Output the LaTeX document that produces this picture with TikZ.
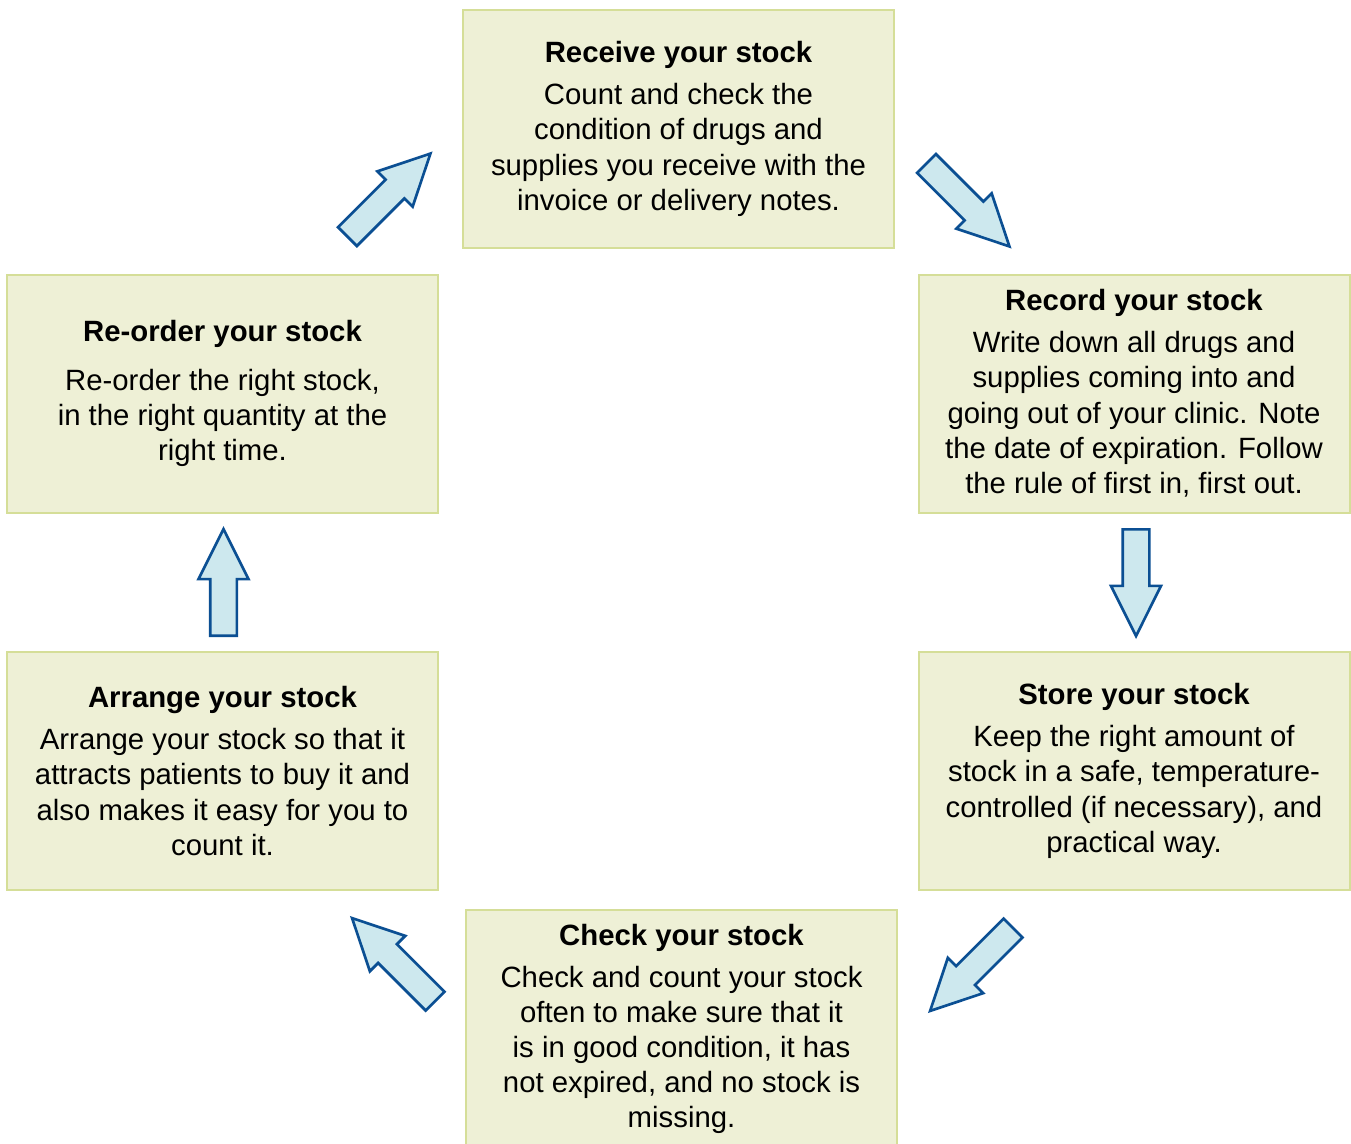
\documentclass[tikz,border=0pt]{standalone}
\usepackage{fontspec}
\setmainfont{Liberation Sans}
\usetikzlibrary{shapes.arrows}
\definecolor{boxfill}{HTML}{EEF0D6}
\definecolor{boxline}{HTML}{D5DE98}
\definecolor{arrowfill}{HTML}{CDE8EE}
\definecolor{arrowline}{HTML}{0B4F93}
\tikzset{
    stepbox/.style={draw=boxline, fill=boxfill, line width=1.5pt, minimum width=323.25pt, minimum height=178.5pt, align=center, inner sep=0pt, font=\fontsize{22}{26.4}\selectfont},
    blockarrow/.style={single arrow, draw=arrowline, fill=arrowfill, line width=2pt, inner xsep=0pt, inner ysep=9pt, single arrow head extend=8.75pt, single arrow tip angle=53, single arrow head indent=0pt, anchor=tail}
}
\newcommand{\steptext}[3][5pt]{% Takes optional gap, title, body lines
    \textbf{#2}\\[#1]#3%
}

\begin{document}
\begin{tikzpicture}[x=0.75pt, y=-0.75pt]
                \useasboundingbox (0,0) rectangle (1351,1143);

                % Boxes
                \node[stepbox] (receive) at (678.5, 129) {\steptext{Receive your stock}{Count and check the\\condition of drugs and\\supplies you receive with the\\invoice or delivery notes.}};
                \node[stepbox] (record) at (1134, 393.5) {\steptext{Record your stock}{Write down all drugs and\\supplies coming into and\\going out of your clinic. Note\\the date of expiration. Follow\\the rule of first in, first out.}};
                \node[stepbox] (store) at (1134, 771) {\steptext{Store your stock}{Keep the right amount of\\stock in a safe, temperature-\\controlled (if necessary), and\\practical way.}};
                \node[stepbox] (check) at (681.5, 1029) {\steptext{Check your stock}{Check and count your stock\\often to make sure that it\\is in good condition, it has\\not expired, and no stock is\\missing.}};
                \node[stepbox] (arrange) at (222.5, 771) {\steptext{Arrange your stock}{Arrange your stock so that it\\attracts patients to buy it and\\also makes it easy for you to\\count it.}};
                \node[stepbox] (reorder) at (222.5, 393.5) {\steptext[10pt]{Re-order your stock}{Re-order the right stock,\\in the right quantity at the\\right time.}};

                % Arrows
                \node[blockarrow, minimum height=88pt, rotate=45] (toreceive) at (346.5, 237.5) {};
                \node[blockarrow, minimum height=88pt, rotate=-45] (torecord) at (925.5, 162.5) {};
                \node[blockarrow, minimum height=80pt, rotate=-90] (tostore) at (1136, 528) {};
                \node[blockarrow, minimum height=88pt, rotate=-135] (tocheck) at (1014, 927) {};
                \node[blockarrow, minimum height=88pt, rotate=135] (toarrange) at (436, 1002) {};
                \node[blockarrow, minimum height=80pt, rotate=90] (toreorder) at (223.5, 637) {};
            \end{tikzpicture}
\end{document}
